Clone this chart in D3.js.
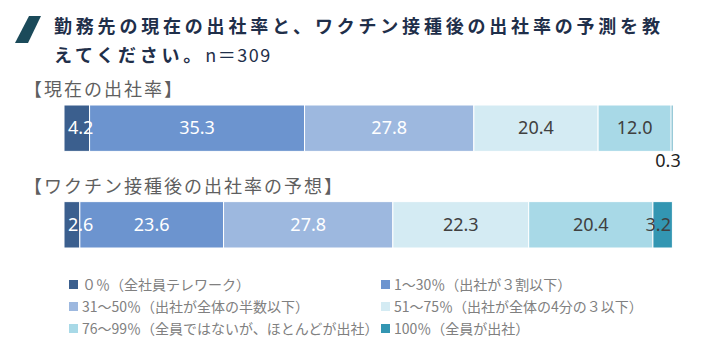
<!DOCTYPE html>
<html>
<head>
<meta charset="utf-8">
<script src="https://cdn.jsdelivr.net/npm/d3@7"></script>
<style>
  html, body { margin: 0; padding: 0; background: #fff; }
  svg { display: block; font-family: "Noto Sans CJK JP", "Noto Sans", sans-serif; }
</style>
</head>
<body>
<div id="chart"></div>
<script>
// 出社率の積み上げ棒グラフ
const categories = ["現在", "接種後"];
const groupTitles = ["【現在の出社率】", "【ワクチン接種後の出社率の予想】"];
const seriesNames = [
  "０％（全社員テレワーク）",
  "1～30％（出社が３割以下）",
  "31～50％（出社が全体の半数以下）",
  "51～75％（出社が全体の4分の３以下）",
  "76～99％（全員ではないが、ほとんどが出社）",
  "100％（全員が出社）"
];
const currentValues = [4.2, 35.3, 27.8, 20.4, 12.0, 0.3];
const afterValues = [2.6, 23.6, 27.8, 22.3, 20.4, 3.2];
const colors = ["#3b5f8e", "#6c94cf", "#9db8df", "#d4ebf3", "#a8d9e7", "#3396b2"];
const labelColors = ["#ffffff", "#ffffff", "#ffffff", "#404040", "#404040", "#404040"];

const W = 720, H = 351;
const svg = d3.select("#chart").append("svg")
  .attr("width", W).attr("height", H);

// title
svg.append("polygon")
  .attr("points", "29,16 41,16 28,43 15,43")
  .attr("fill", "#1b4a5a");
svg.append("text")
  .attr("x", 54).attr("y", 33)
  .attr("font-size", 18).attr("font-weight", 700)
  .attr("letter-spacing", 3.8)
  .attr("fill", "#1f2f4a")
  .text("勤務先の現在の出社率と、ワクチン接種後の出社率の予測を教");
const t2 = svg.append("text")
  .attr("x", 54).attr("y", 62)
  .attr("font-size", 18).attr("fill", "#1f2f4a");
t2.append("tspan").attr("font-weight", 700).attr("letter-spacing", 3.8).text("えてください。");
t2.append("tspan").attr("font-weight", 400).attr("letter-spacing", 1.5).text("n＝309");

const x = d3.scaleLinear().domain([0, 100]).range([64, 673]);
const y = d3.scaleBand().domain(categories).range([105, 248]).paddingInner(0.52);

const rows = [currentValues, afterValues];
const table = categories.map((c, i) => {
  const o = { cat: c };
  seriesNames.forEach((s, j) => o[s] = rows[i][j]);
  return o;
});
const stacked = d3.stack().keys(seriesNames)(table);

// group titles
svg.selectAll(".gtitle")
  .data(groupTitles)
  .join("text")
  .attr("class", "gtitle")
  .attr("x", 24)
  .attr("y", (d, i) => y(categories[i]) - 9)
  .attr("font-size", 18)
  .attr("letter-spacing", 2)
  .attr("fill", "#5f5f5f")
  .text(d => d);

const layers = svg.selectAll(".layer")
  .data(stacked)
  .join("g")
  .attr("class", "layer")
  .attr("fill", (d, i) => colors[i]);

layers.selectAll("rect")
  .data(d => d)
  .join("rect")
  .attr("x", d => x(d[0]))
  .attr("y", d => y(d.data.cat))
  .attr("width", d => x(d[1]) - x(d[0]))
  .attr("height", y.bandwidth())
  .attr("stroke", "#ffffff")
  .attr("stroke-width", 1);

// value labels (kept inside the plot like Excel does)
stacked.forEach((layer, i) => {
  layer.forEach(d => {
    const v = d[1] - d[0];
    const small = v < 1;
    const t = svg.append("text")
      .attr("y", small ? y(d.data.cat) + y.bandwidth() + 16 : y(d.data.cat) + y.bandwidth() / 2 + 6)
      .attr("text-anchor", "middle")
      .attr("font-family", "Noto Sans, sans-serif")
      .attr("font-size", 18)
      .attr("fill", small ? "#222" : labelColors[i])
      .text(d3.format(".1f")(v));
    let cx = small ? x(d[1]) - 5 : (x(d[0]) + x(d[1])) / 2;
    if (!small) {
      const half = t.node().getComputedTextLength() / 2;
      cx = Math.max(cx, x(0) + 4 + half);
      cx = Math.min(cx, x(100) - 2 - half);
    }
    t.attr("x", cx);
  });
});

// legend
const legend = svg.selectAll(".legend")
  .data(seriesNames)
  .join("g")
  .attr("class", "legend")
  .attr("transform", (d, i) => `translate(${i % 2 === 0 ? 69 : 381},${285 + Math.floor(i / 2) * 22})`);
legend.append("rect")
  .attr("x", 0).attr("y", -5)
  .attr("width", 9).attr("height", 9)
  .attr("fill", (d, i) => colors[i]);
legend.append("text")
  .attr("x", 13).attr("y", 5)
  .attr("font-size", 14)
  .attr("fill", "#808080")
  .text(d => d);
</script>
</body>
</html>
